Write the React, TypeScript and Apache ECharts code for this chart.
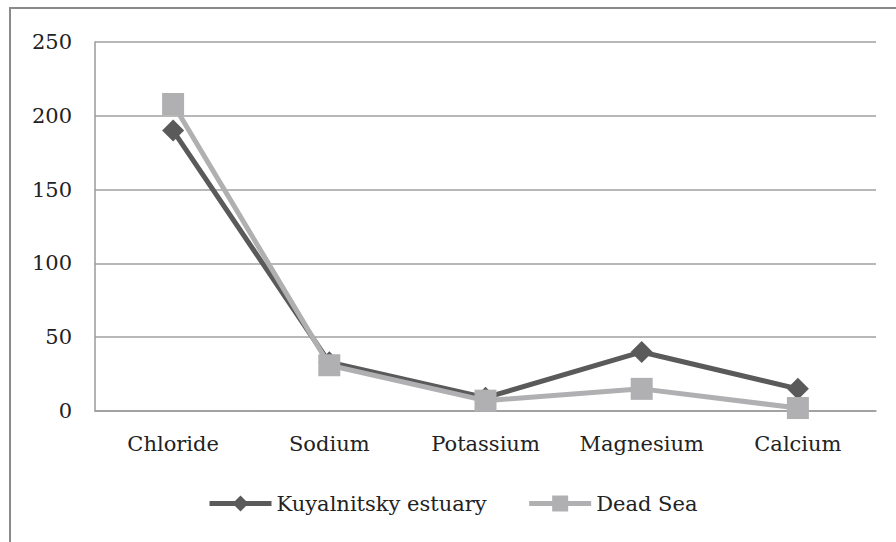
import React, { useEffect, useRef } from "react";
import * as echarts from "echarts";

const categories = ["Chloride", "Sodium", "Potassium", "Magnesium", "Calcium"];
const kuyalnitsky = [190, 33, 9, 40, 15];
const deadSea = [208, 31, 7, 15, 2];
const seriesNames = ["Kuyalnitsky estuary", "Dead Sea"];

const FONT = "DejaVu Serif";

export default function App() {
  const ref = useRef<HTMLDivElement>(null);
  useEffect(() => {
    document.body.style.margin = "0";
    const chart = echarts.init(ref.current!, null, { renderer: "svg" });
    chart.setOption({
      animation: false,
      backgroundColor: "#ffffff",
      textStyle: { fontFamily: FONT },
      graphic: [
        {
          type: "rect",
          shape: { x: 10, y: 8, width: 900, height: 560 },
          style: { fill: "none", stroke: "#8a8a8a", lineWidth: 2 },
          silent: true,
        },
      ],
      grid: { left: 95, right: 20, top: 42, bottom: 131, containLabel: false },
      legend: {
        data: seriesNames,
        top: 493,
        left: 207,
        padding: 0,
        itemWidth: 62,
        itemHeight: 20,
        itemGap: 40,
        lineStyle: { width: 5 },
        textStyle: { fontFamily: FONT, fontSize: 21, color: "#222" },
      },
      xAxis: {
        type: "category",
        data: categories,
        boundaryGap: true,
        axisLine: { lineStyle: { color: "#9a9a9a", width: 1.5 } },
        axisTick: { show: false },
        axisLabel: { fontFamily: FONT, fontSize: 21, color: "#222", margin: 22, interval: 0 },
      },
      yAxis: {
        type: "value",
        min: 0,
        max: 250,
        interval: 50,
        axisLine: { show: true, lineStyle: { color: "#9a9a9a", width: 1.5 } },
        axisTick: { show: false },
        splitLine: { lineStyle: { color: "#a0a0a0", width: 1.5 } },
        axisLabel: { fontFamily: FONT, fontSize: 21, color: "#222", margin: 23 },
      },
      series: [
        {
          name: seriesNames[0],
          type: "line",
          data: kuyalnitsky,
          symbol: "diamond",
          symbolSize: 22,
          lineStyle: { color: "#5a5a5a", width: 5 },
          itemStyle: { color: "#5a5a5a" },
          z: 2,
        },
        {
          name: seriesNames[1],
          type: "line",
          data: deadSea,
          symbol: "rect",
          symbolSize: 22,
          lineStyle: { color: "#b0b0b2", width: 5 },
          itemStyle: { color: "#b0b0b2" },
          z: 3,
        },
      ],
    });
    return () => chart.dispose();
  }, []);
  return (
    <div
      ref={ref}
      style={{ position: "fixed", left: 0, top: 0, width: 896, height: 542 }}
    />
  );
}
